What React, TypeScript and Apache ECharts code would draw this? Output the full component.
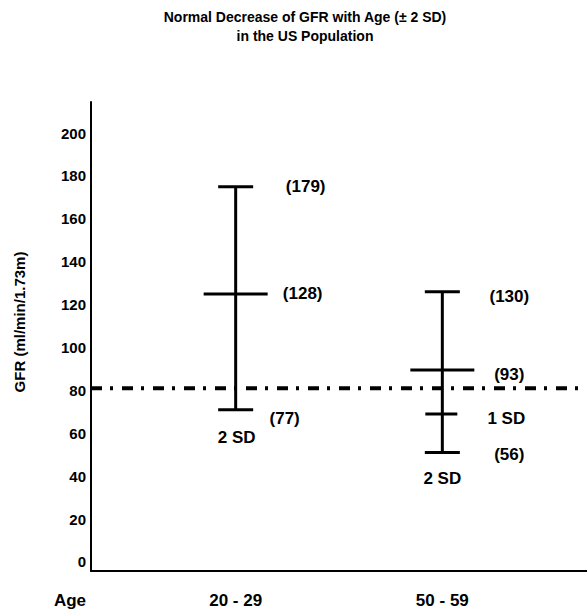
import React, { useEffect, useRef } from "react";
import * as echarts from "echarts";

const titleText = "Normal Decrease of GFR with Age (± 2 SD)\nin the US Population";
const yAxisName = "GFR (ml/min/1.73m)";
const xAxisName = "Age";
const ageGroups = ["20 - 29", "50 - 59"];
const groupPositions = [3.5, 8.5];
const upper2SD = [175, 126];
const meanGFR = [125, 89.5];
const lower1SD: (number | null)[] = [null, 69];
const lower2SD = [71, 51];
const upperLabels = ["(179)", "(130)"];
const meanLabels = ["(128)", "(93)"];
const lower1SDLabels = ["", "1 SD"];
const lower2SDLabels = ["(77)", "(56)"];
const belowLabels = ["2 SD", "2 SD"];
const referenceGFR = 81;
const yTickValues = [0, 20, 40, 60, 80, 100, 120, 140, 160, 180, 200];

const FONT = "'Liberation Sans', Arial, Helvetica, sans-serif";

// label placement (pixel offsets from the anchor point), per group
const labelOffsets = {
  upper: [[70, 0], [67, 5]],
  mean: [[67, 0], [67, 4]],
  sd1: [[64, 4], [64, 4]],
  lower: [[49, 9], [67, 2]],
  below: [[1, 28], [0, 26]],
};

export default function App() {
  const ref = useRef<HTMLDivElement>(null);
  useEffect(() => {
    if (!ref.current) return;
    const chart = echarts.init(ref.current, null, { renderer: "svg" });

    const txt = (text: string, x: number, y: number, size = 17) => ({
      type: "text",
      style: {
        text,
        x,
        y,
        align: "center",
        verticalAlign: "middle",
        fontSize: size,
        fontWeight: "bold",
        fontFamily: FONT,
        fill: "#000",
      },
    });
    const ln = (x1: number, y1: number, x2: number, y2: number) => ({
      type: "line",
      shape: { x1, y1, x2, y2 },
      style: { stroke: "#000", lineWidth: 3 },
    });

    const option: any = {
      animation: false,
      backgroundColor: "#fff",
      title: {
        text: titleText,
        left: 305,
        top: 7,
        textAlign: "center",
        padding: 0,
        textStyle: {
          fontSize: 14,
          fontWeight: "bold",
          fontFamily: FONT,
          color: "#000",
          lineHeight: 19,
        },
      },
      grid: { left: 91, right: 0, top: 102, bottom: 41, containLabel: false },
      xAxis: {
        type: "value",
        min: 0,
        max: 12,
        axisLine: { show: true, onZero: false, lineStyle: { color: "#000", width: 2 } },
        axisTick: { show: false },
        splitLine: { show: false },
        axisLabel: {
          customValues: groupPositions,
          formatter: (v: number) => {
            const i = groupPositions.indexOf(v);
            return i >= 0 ? ageGroups[i] : "";
          },
          margin: 21,
          fontSize: 17,
          fontWeight: "bold",
          fontFamily: FONT,
          color: "#000",
        },
      },
      yAxis: {
        type: "value",
        min: -4.2,
        max: 214.5,
        axisLine: { show: true, lineStyle: { color: "#000", width: 2 } },
        axisTick: { show: false },
        splitLine: { show: false },
        axisLabel: {
          customValues: yTickValues,
          margin: 5,
          fontSize: 15,
          fontWeight: "bold",
          fontFamily: FONT,
          color: "#000",
        },
      },
      graphic: [
        {
          type: "text",
          x: 19,
          y: 322,
          rotation: Math.PI / 2,
          style: {
            text: yAxisName,
            align: "center",
            verticalAlign: "middle",
            fontSize: 15,
            fontWeight: "bold",
            fontFamily: FONT,
            fill: "#000",
          },
        },
        {
          type: "text",
          x: 70,
          y: 600,
          style: {
            text: xAxisName,
            align: "center",
            verticalAlign: "middle",
            fontSize: 17,
            fontWeight: "bold",
            fontFamily: FONT,
            fill: "#000",
          },
        },
      ],
      series: [
        {
          type: "line",
          data: [
            [0, referenceGFR],
            [12, referenceGFR],
          ],
          showSymbol: false,
          symbol: "none",
          silent: true,
          lineStyle: { color: "#000", width: 4, type: [11, 8, 3, 9], cap: "butt" },
          z: 3,
        },
        {
          type: "custom",
          data: ageGroups.map((_, i) => [groupPositions[i], lower2SD[i], meanGFR[i], upper2SD[i]]),
          encode: { x: 0, y: [1, 2, 3] },
          z: 2,
          renderItem: (params: any, api: any) => {
            const i = params.dataIndex;
            const xv = api.value(0);
            const lo = api.coord([xv, api.value(1)]);
            const mid = api.coord([xv, api.value(2)]);
            const hi = api.coord([xv, api.value(3)]);
            const cx = hi[0];
            const children: any[] = [
              ln(cx, hi[1], cx, lo[1]),
              ln(cx - 17.5, hi[1], cx + 17.5, hi[1]),
              ln(cx - 17.5, lo[1], cx + 17.5, lo[1]),
              ln(cx - 32, mid[1], cx + 32, mid[1]),
            ];
            const o = labelOffsets;
            children.push(txt(upperLabels[i], cx + o.upper[i][0], hi[1] + o.upper[i][1]));
            children.push(txt(meanLabels[i], cx + o.mean[i][0], mid[1] + o.mean[i][1]));
            children.push(txt(lower2SDLabels[i], cx + o.lower[i][0], lo[1] + o.lower[i][1]));
            children.push(txt(belowLabels[i], cx + o.below[i][0], lo[1] + o.below[i][1]));
            const s1 = lower1SD[i];
            if (s1 != null) {
              const p = api.coord([xv, s1]);
              children.push(ln(cx - 17, p[1], cx + 15, p[1]));
              children.push(txt(lower1SDLabels[i], cx + o.sd1[i][0], p[1] + o.sd1[i][1]));
            }
            return { type: "group", children };
          },
        },
      ],
    };
    chart.setOption(option);
    return () => chart.dispose();
  }, []);
  return (
    <div
      ref={ref}
      style={{ position: "fixed", left: 0, top: 0, width: 587, height: 612 }}
    />
  );
}
